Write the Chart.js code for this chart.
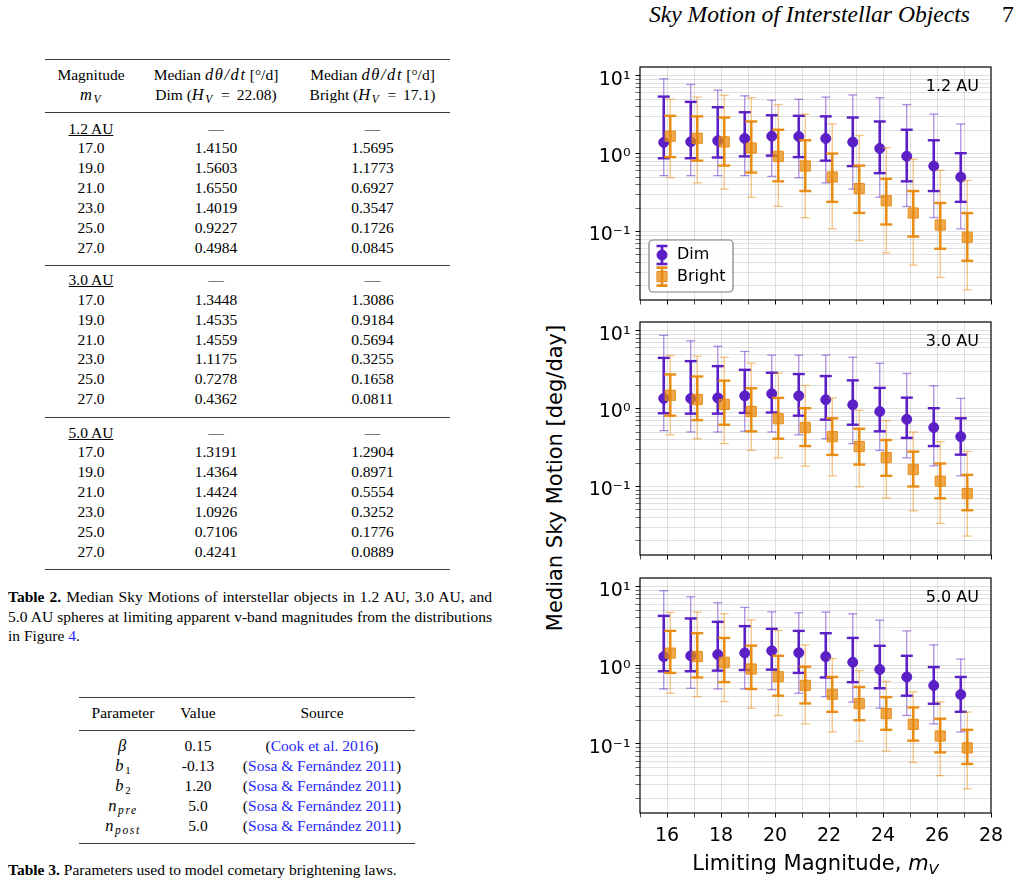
<!DOCTYPE html>
<html>
<head>
<meta charset="utf-8">
<script src="https://cdn.jsdelivr.net/npm/chart.js@4"></script>
<style>
  body { margin: 0; width: 1024px; height: 885px; position: relative; overflow: hidden; background: #fff;
         font-family: "Liberation Serif", "Times New Roman", serif; color: #000; }
  .abs { position: absolute; white-space: nowrap; }
  .rule { position: absolute; background: #3a3a3a; }
  .row { position: absolute; height: 20px; line-height: 20px; font-size: 15.5px; white-space: nowrap; }
  .cell { position: absolute; top: 0; text-align: center; }
  .sub { font-size: 70%; position: relative; top: 0.3em; line-height: 0; }
  .m { font-size: 16.5px; letter-spacing: 1.6px; }
  .link { color: #1f1fff; }
  .cap { position: absolute; left: 8px; width: 484px; height: 19.5px; line-height: 19.5px; font-size: 15.5px; white-space: nowrap; }
  .just { text-align: justify; text-align-last: justify; white-space: normal; }
  .panel { position: absolute; left: 580px; }
  .axtitle { position: absolute; font-family: "DejaVu Sans", sans-serif; font-size: 21px; white-space: nowrap; line-height: 24px; }
</style>
</head>
<body>

<!-- running head -->
<div class="abs" style="right:54px; top:3px; font-size:23.6px; line-height:23px; font-style:italic;">Sky Motion of Interstellar Objects</div>
<div class="abs" style="left:1002px; top:3px; font-size:23.6px; line-height:23px;">7</div>

<!-- Table 2 -->
<div class="rule" style="left:45px; top:58.5px; width:405px; height:1.4px;"></div>
<div class="row" style="left:0; top:65px;">
  <span class="cell" style="left:45px; width:92px;">Magnitude</span>
  <span class="cell" style="left:137px; width:158px;">Median <i class="m">dθ/dt</i>&thinsp;[°/d]</span>
  <span class="cell" style="left:295px; width:155px;">Median <i class="m">dθ/dt</i>&thinsp;[°/d]</span>
</div>
<div class="row" style="left:0; top:85px;">
  <span class="cell" style="left:45px; width:92px;"><i class="m">m<span class="sub">V</span></i></span>
  <span class="cell" style="left:137px; width:158px;">Dim (<i class="m">H<span class="sub">V</span></i>&thinsp; = &thinsp;22.08)</span>
  <span class="cell" style="left:295px; width:155px;">Bright (<i class="m">H<span class="sub">V</span></i>&thinsp; = &thinsp;17.1)</span>
</div>
<div class="rule" style="left:45px; top:112px; width:405px; height:1.2px;"></div>
<div class="rule" style="left:45px; top:264.5px; width:405px; height:1.2px;"></div>
<div class="rule" style="left:45px; top:416.5px; width:405px; height:1.2px;"></div>
<div class="rule" style="left:45px; top:569px; width:405px; height:1.4px;"></div>
<div id="table2"></div>

<div class="cap just" style="top:587px;"><b>Table 2.</b> Median Sky Motions of interstellar objects in 1.2 AU, 3.0 AU, and</div>
<div class="cap just" style="top:606.5px;">5.0 AU spheres at limiting apparent v-band magnitudes from the distributions</div>
<div class="cap" style="top:626px;">in Figure <span class="link">4</span>.</div>

<!-- Table 3 -->
<div class="rule" style="left:79px; top:696.5px; width:336px; height:1.4px;"></div>
<div class="row" style="left:0; top:703px;">
  <span class="cell" style="left:79px; width:88px;">Parameter</span>
  <span class="cell" style="left:167px; width:62px;">Value</span>
  <span class="cell" style="left:229px; width:186px;">Source</span>
</div>
<div class="rule" style="left:79px; top:730px; width:336px; height:1.2px;"></div>
<div id="table3"></div>
<div class="rule" style="left:79px; top:842.5px; width:336px; height:1.4px;"></div>
<div class="cap" style="top:860px;"><b>Table 3.</b> Parameters used to model cometary brightening laws.</div>

<!-- figure -->
<div class="panel" style="top:55px;"><canvas id="p12" width="444" height="257"></canvas></div>
<div class="panel" style="top:310px;"><canvas id="p30" width="444" height="257"></canvas></div>
<div class="panel" style="top:566px;"><canvas id="p50" width="444" height="293"></canvas></div>
<div class="axtitle" style="left:554.5px; top:477.5px; transform:translate(-50%,-50%) rotate(-90deg);">Median Sky Motion [deg/day]</div>
<div class="axtitle" style="left:815.5px; top:863px; transform:translate(-50%,-50%);">Limiting Magnitude, <i>m<span class="sub">V</span></i></div>

<script>
// ---- chart data (odd magnitudes match Table 2) ----
const magnitudes = [16, 17, 18, 19, 20, 21, 22, 23, 24, 25, 26, 27];
const xTickValues = [16, 18, 20, 22, 24, 26, 28];
const xTickLabels = ['16', '18', '20', '22', '24', '26', '28'];
const yTickDecades = [0.1, 1, 10];
const yTickLabels = ['10⁻¹', '10⁰', '10¹'];
const legendLabels = ['Dim', 'Bright'];
const panelNames = ['1.2 AU', '3.0 AU', '5.0 AU'];

// 1.2 AU
const dimMed12 = [1.39, 1.4150, 1.46, 1.5603, 1.67, 1.6550, 1.56, 1.4019, 1.16, 0.9227, 0.69, 0.4984];
const dimQhi12 = [5.38, 4.6, 3.93, 3.39, 3.1, 3.05, 3.0, 2.9, 2.58, 2.02, 1.48, 1.01];
const dimQlo12 = [0.87, 0.87, 0.89, 0.92, 0.94, 0.9, 0.81, 0.69, 0.56, 0.44, 0.33, 0.24];
const dimHi12 = [9.1, 7.7, 6.5, 5.5, 4.83, 4.97, 5.3, 5.65, 5.2, 4.25, 3.2, 2.39];
const dimLo12 = [0.52, 0.52, 0.52, 0.52, 0.51, 0.49, 0.42, 0.35, 0.275, 0.209, 0.151, 0.108];
const brMed12 = [1.67, 1.5695, 1.41, 1.1773, 0.92, 0.6927, 0.50, 0.3547, 0.248, 0.1726, 0.121, 0.0845];
const brQhi12 = [3.05, 3.0, 2.9, 2.58, 2.02, 1.48, 1.0, 0.70, 0.474, 0.33, 0.232, 0.172];
const brQlo12 = [0.90, 0.81, 0.70, 0.57, 0.44, 0.33, 0.24, 0.173, 0.123, 0.086, 0.06, 0.042];
const brHi12 = [5.0, 5.3, 5.6, 5.2, 4.25, 3.2, 2.4, 1.71, 1.19, 0.845, 0.61, 0.45];
const brLo12 = [0.49, 0.42, 0.35, 0.275, 0.21, 0.15, 0.108, 0.076, 0.053, 0.037, 0.0257, 0.0178];

// 3.0 AU
const dimMed30 = [1.35, 1.3448, 1.37, 1.4535, 1.55, 1.4559, 1.30, 1.1175, 0.915, 0.7278, 0.57, 0.4362];
const dimQhi30 = [4.47, 4.06, 3.5, 3.14, 2.88, 2.77, 2.61, 2.3, 1.84, 1.38, 1.01, 0.75];
const dimQlo30 = [0.87, 0.86, 0.86, 0.88, 0.89, 0.81, 0.72, 0.62, 0.51, 0.42, 0.33, 0.256];
const dimHi30 = [8.7, 7.4, 6.3, 5.4, 4.84, 4.84, 4.84, 4.56, 3.82, 2.82, 1.96, 1.35];
const dimLo30 = [0.52, 0.50, 0.50, 0.51, 0.50, 0.46, 0.41, 0.355, 0.29, 0.233, 0.184, 0.137];
const brMed30 = [1.48, 1.3086, 1.13, 0.9184, 0.74, 0.5694, 0.435, 0.3255, 0.235, 0.1658, 0.117, 0.0811];
const brQhi30 = [2.74, 2.58, 2.28, 1.82, 1.37, 1.01, 0.75, 0.55, 0.394, 0.28, 0.197, 0.141];
const brQlo30 = [0.81, 0.71, 0.62, 0.51, 0.41, 0.33, 0.254, 0.191, 0.137, 0.100, 0.0705, 0.0495];
const brHi30 = [4.79, 4.7, 4.56, 3.82, 2.85, 1.98, 1.37, 0.95, 0.70, 0.50, 0.376, 0.283];
const brLo30 = [0.46, 0.41, 0.355, 0.29, 0.233, 0.182, 0.137, 0.099, 0.071, 0.0486, 0.0335, 0.0231];

// 5.0 AU
const dimMed50 = [1.29, 1.3191, 1.37, 1.4364, 1.53, 1.4424, 1.29, 1.0926, 0.885, 0.7106, 0.553, 0.4241];
const dimQhi50 = [4.26, 3.94, 3.57, 3.15, 2.91, 2.74, 2.56, 2.23, 1.77, 1.32, 0.95, 0.71];
const dimQlo50 = [0.84, 0.84, 0.855, 0.87, 0.88, 0.80, 0.70, 0.61, 0.51, 0.41, 0.324, 0.256];
const dimHi50 = [8.9, 7.45, 6.25, 5.45, 4.79, 4.66, 4.75, 4.52, 3.75, 2.74, 1.82, 1.2];
const dimLo50 = [0.50, 0.51, 0.50, 0.50, 0.49, 0.44, 0.40, 0.34, 0.285, 0.23, 0.18, 0.142];
const brMed50 = [1.43, 1.2904, 1.09, 0.8971, 0.715, 0.5554, 0.428, 0.3252, 0.243, 0.1776, 0.126, 0.0889];
const brQhi50 = [2.74, 2.56, 2.23, 1.78, 1.32, 0.96, 0.71, 0.53, 0.394, 0.291, 0.209, 0.151];
const brQlo50 = [0.80, 0.70, 0.61, 0.50, 0.41, 0.327, 0.256, 0.20, 0.151, 0.110, 0.078, 0.0556];
const brHi50 = [4.7, 4.75, 4.52, 3.78, 2.77, 1.82, 1.22, 0.855, 0.625, 0.46, 0.343, 0.254];
const brLo50 = [0.44, 0.40, 0.345, 0.285, 0.23, 0.18, 0.142, 0.108, 0.081, 0.0578, 0.0394, 0.0267];

// ---- table text ----
const t2Mags = ['17.0', '19.0', '21.0', '23.0', '25.0', '27.0'];
const t2Dim = [
  ['1.4150', '1.5603', '1.6550', '1.4019', '0.9227', '0.4984'],
  ['1.3448', '1.4535', '1.4559', '1.1175', '0.7278', '0.4362'],
  ['1.3191', '1.4364', '1.4424', '1.0926', '0.7106', '0.4241']
];
const t2Bright = [
  ['1.5695', '1.1773', '0.6927', '0.3547', '0.1726', '0.0845'],
  ['1.3086', '0.9184', '0.5694', '0.3255', '0.1658', '0.0811'],
  ['1.2904', '0.8971', '0.5554', '0.3252', '0.1776', '0.0889']
];
const t3Params = ['<i class="m">β</i>', '<i class="m">b</i><span class="sub">1</span>', '<i class="m">b</i><span class="sub">2</span>',
                  '<i class="m">n<span class="sub">pre</span></i>', '<i class="m">n<span class="sub">post</span></i>'];
const t3Values = ['0.15', '-0.13', '1.20', '5.0', '5.0'];
const t3Sources = ['Cook et al. 2016', 'Sosa &amp; Fernández 2011', 'Sosa &amp; Fernández 2011',
                   'Sosa &amp; Fernández 2011', 'Sosa &amp; Fernández 2011'];

// build table 2
let html = '';
const groupTops = [118.5, 270, 422.5];
panelNames.forEach((name, g) => {
  const rows = [['<span style="text-decoration:underline">' + name + '</span>', '—', '—']];
  t2Mags.forEach((m, i) => rows.push([m, t2Dim[g][i], t2Bright[g][i]]));
  rows.forEach((r, i) => {
    html += '<div class="row" style="left:0; top:' + (groupTops[g] + i * 19.85) + 'px;">' +
      '<span class="cell" style="left:45px; width:92px;">' + r[0] + '</span>' +
      '<span class="cell" style="left:137px; width:158px;">' + r[1] + '</span>' +
      '<span class="cell" style="left:295px; width:155px;">' + r[2] + '</span></div>';
  });
});
document.getElementById('table2').innerHTML = html;

html = '';
t3Params.forEach((p, i) => {
  html += '<div class="row" style="left:0; top:' + (736 + i * 20) + 'px;">' +
    '<span class="cell" style="left:79px; width:88px;">' + p + '</span>' +
    '<span class="cell" style="left:167px; width:62px;">' + t3Values[i] + '</span>' +
    '<span class="cell" style="left:229px; width:186px;">(<span class="link">' + t3Sources[i] + '</span>)</span></div>';
});
document.getElementById('table3').innerHTML = html;

// ---- chart ----
Chart.defaults.font.family = '"DejaVu Sans", sans-serif';
Chart.defaults.color = '#000';

const Y_MIN = 0.0132, Y_MAX = 12.9;
const X_MIN = 15, X_MAX = 28;
const DIM_OFF = -0.12, BRIGHT_OFF = 0.12;
const DIM = { solid: '#5b1fc6', faint: 'rgba(91,31,198,0.5)', fill: '#5b1fc6', style: 'circle', r: 5 };
const BRIGHT = { solid: 'rgba(232,137,12,0.95)', faint: 'rgba(232,137,12,0.5)', fill: 'rgba(232,137,12,0.72)', style: 'rect', r: 7.2 };
const GRID = 'rgba(0,0,0,0.12)';

const yTickValues = [];
[0.01, 0.1, 1, 10].forEach(d => {
  for (let k = 1; k <= 9; k++) {
    const v = k * d;
    if (v >= Y_MIN && v <= Y_MAX) yTickValues.push({ value: v, major: k === 1 });
  }
});

function barData(lo, hi, off) {
  const out = [];
  magnitudes.forEach((m, i) => {
    out.push({ x: m + off, y: lo[i] }, { x: m + off, y: hi[i] }, { x: m + off, y: null });
  });
  return out;
}

function seriesSets(name, s, off, c, base) {
  return [
    { label: name, data: magnitudes.map((m, i) => ({ x: m + off, y: s.med[i] })), showLine: false,
      pointStyle: c.style, pointRadius: c.r, pointBackgroundColor: c.fill, pointBorderColor: c.solid,
      pointBorderWidth: 1, order: base },
    { label: name + ' inner', data: barData(s.qlo, s.qhi, off), showLine: true, spanGaps: false,
      borderColor: c.solid, borderWidth: 2.6, pointStyle: 'line', pointRadius: 6,
      pointBorderWidth: 2.4, pointBorderColor: c.solid, pointBackgroundColor: c.solid, order: base + 1 },
    { label: name + ' outer', data: barData(s.lo, s.hi, off), showLine: true, spanGaps: false,
      borderColor: c.faint, borderWidth: 1.3, pointStyle: 'line', pointRadius: 4.5,
      pointBorderWidth: 1.3, pointBorderColor: c.faint, pointBackgroundColor: c.faint, order: base + 2 }
  ];
}

const framePlugin = {
  id: 'frame',
  afterDatasetsDraw(chart) {
    const { ctx, chartArea: a } = chart;
    ctx.save();
    ctx.strokeStyle = '#000';
    ctx.lineWidth = 1.2;
    ctx.strokeRect(a.left, a.top, a.right - a.left, a.bottom - a.top);
    ctx.restore();
  }
};

function labelPlugin(text) {
  return {
    id: 'panelLabel',
    afterDraw(chart) {
      const { ctx, chartArea: a } = chart;
      ctx.save();
      ctx.font = '16px "DejaVu Sans"';
      ctx.fillStyle = '#000';
      ctx.textAlign = 'right';
      ctx.textBaseline = 'middle';
      ctx.fillText(text, a.right - 12, a.top + 19.5);
      ctx.restore();
    }
  };
}

const legendPlugin = {
  id: 'legendBox',
  afterDraw(chart) {
    const { ctx, chartArea: a } = chart;
    const x0 = a.left + 9, y0 = a.bottom - 60, w = 84, h = 52;
    ctx.save();
    ctx.beginPath();
    if (ctx.roundRect) ctx.roundRect(x0, y0, w, h, 4); else ctx.rect(x0, y0, w, h);
    ctx.fillStyle = 'rgba(255,255,255,0.85)';
    ctx.fill();
    ctx.strokeStyle = '#7f7f7f';
    ctx.lineWidth = 1.2;
    ctx.stroke();
    [DIM, BRIGHT].forEach((c, i) => {
      const cx = x0 + 13, cy = y0 + 15 + i * 21.6;
      ctx.strokeStyle = c.solid;
      ctx.lineWidth = 2.6;
      ctx.beginPath();
      ctx.moveTo(cx, cy - 9); ctx.lineTo(cx, cy + 9);
      ctx.moveTo(cx - 5.5, cy - 9); ctx.lineTo(cx + 5.5, cy - 9);
      ctx.moveTo(cx - 5.5, cy + 9); ctx.lineTo(cx + 5.5, cy + 9);
      ctx.stroke();
      ctx.fillStyle = c.fill;
      ctx.lineWidth = 1;
      ctx.beginPath();
      if (c.style === 'circle') ctx.arc(cx, cy, c.r, 0, Math.PI * 2);
      else { const sd = c.r * Math.SQRT2 / 2; ctx.rect(cx - sd, cy - sd, 2 * sd, 2 * sd); }
      ctx.fill();
      ctx.stroke();
      ctx.fillStyle = '#000';
      ctx.font = '16px "DejaVu Sans"';
      ctx.textAlign = 'left';
      ctx.textBaseline = 'middle';
      ctx.fillText(legendLabels[i], x0 + 28, cy);
    });
    ctx.restore();
  }
};

function makePanel(id, name, dim, bright, showX, withLegend) {
  const plugins = [framePlugin, labelPlugin(name)];
  if (withLegend) plugins.push(legendPlugin);
  new Chart(document.getElementById(id), {
    type: 'scatter',
    data: {
      datasets: [].concat(seriesSets(legendLabels[1], bright, BRIGHT_OFF, BRIGHT, 0),
                          seriesSets(legendLabels[0], dim, DIM_OFF, DIM, 3))
    },
    options: {
      responsive: false,
      animation: false,
      events: [],
      layout: { padding: { top: 12, right: 33, left: 0, bottom: 0 } },
      plugins: { legend: { display: false }, tooltip: { enabled: false } },
      elements: { line: { tension: 0 } },
      scales: {
        x: {
          type: 'linear', min: X_MIN, max: X_MAX,
          afterFit: s => { s.height = showX ? 46 : 12; s.paddingLeft = 0; s.paddingRight = 0; },
          border: { display: false },
          grid: {
            color: ctx => (ctx.tick && (ctx.tick.value === X_MIN || ctx.tick.value === X_MAX)) ? 'rgba(0,0,0,0)' : GRID,
            lineWidth: 1, tickLength: 4.5, tickColor: '#000',
            tickWidth: ctx => (ctx.tick && xTickValues.includes(ctx.tick.value)) ? 1 : 0.7
          },
          ticks: {
            stepSize: 1, autoSkip: false, maxRotation: 0, padding: 7.5,
            font: { size: 19 },
            callback: v => {
              if (!showX) return '';
              const j = xTickValues.indexOf(v);
              return j >= 0 ? xTickLabels[j] : '';
            }
          }
        },
        y: {
          type: 'logarithmic', min: Y_MIN, max: Y_MAX,
          afterBuildTicks: s => { s.ticks = yTickValues.map(t => ({ value: t.value, major: t.major })); },
          afterFit: s => { s.width = 60; s.paddingTop = 0; s.paddingBottom = 0; },
          border: { display: false },
          grid: {
            color: GRID, lineWidth: 1, tickLength: 4.5, tickColor: '#000',
            tickWidth: ctx => (ctx.tick && ctx.tick.major) ? 1 : 0.6
          },
          ticks: {
            autoSkip: false, padding: 5, labelOffset: 4,
            font: { size: 19 },
            callback: v => {
              const j = yTickDecades.findIndex(d => Math.abs(d - v) / d < 1e-6);
              return j >= 0 ? yTickLabels[j] : '';
            }
          }
        }
      }
    },
    plugins: plugins
  });
}

makePanel('p12', panelNames[0],
  { med: dimMed12, qlo: dimQlo12, qhi: dimQhi12, lo: dimLo12, hi: dimHi12 },
  { med: brMed12, qlo: brQlo12, qhi: brQhi12, lo: brLo12, hi: brHi12 }, false, true);
makePanel('p30', panelNames[1],
  { med: dimMed30, qlo: dimQlo30, qhi: dimQhi30, lo: dimLo30, hi: dimHi30 },
  { med: brMed30, qlo: brQlo30, qhi: brQhi30, lo: brLo30, hi: brHi30 }, false, false);
makePanel('p50', panelNames[2],
  { med: dimMed50, qlo: dimQlo50, qhi: dimQhi50, lo: dimLo50, hi: dimHi50 },
  { med: brMed50, qlo: brQlo50, qhi: brQhi50, lo: brLo50, hi: brHi50 }, true, false);
</script>
</body>
</html>
